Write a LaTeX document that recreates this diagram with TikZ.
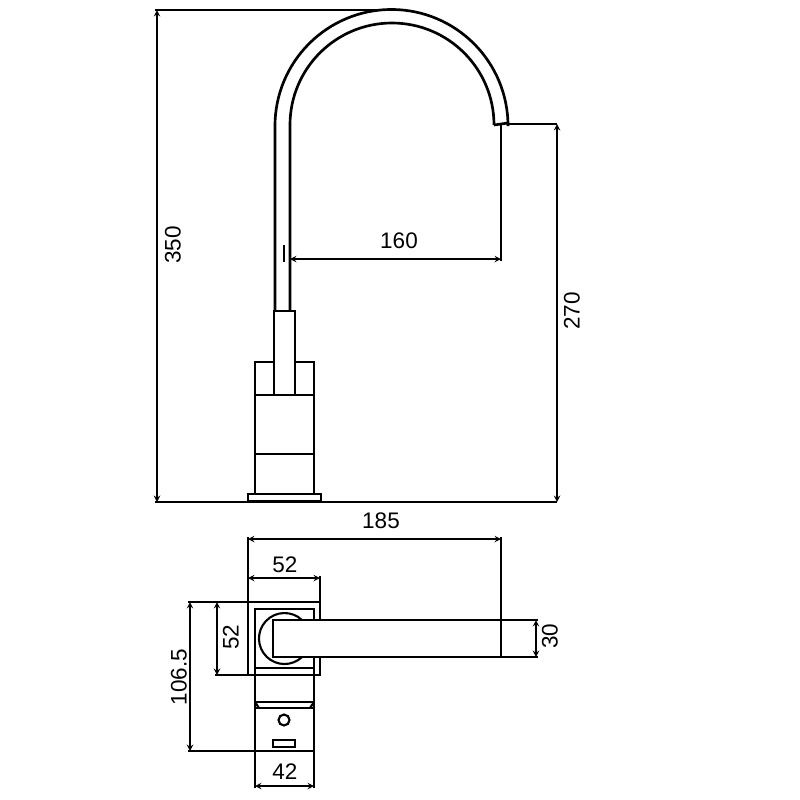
\documentclass[tikz,border=0pt]{standalone}
\usepackage{fontspec}
\setmainfont{Liberation Sans}
\usetikzlibrary{arrows,positioning,calc}
\tikzset{
	body/.style={line width=1.9pt},
	plan/.style={line width=1.5pt},
	ext/.style={line width=1.2pt},
	dim/.style={line width=1pt,<->,>=stealth},
	lab/.style={inner sep=0pt,font=\fontsize{16}{19}\selectfont}
}
\begin{document}
\begin{tikzpicture}[x=0.25mm,y=-0.25mm]
	\useasboundingbox (0,0) rectangle (800,800);
	% spout
	\draw[body] (275,311) -- (275,126) arc (180:360:116.5) -- (508,123) -- (494,125);
	\draw[body] (290,311) -- (290,125) arc (180:360:102);
	% side view base
	\draw[body] (274,311) rectangle (295,395);
	\draw[body] (274,362) -- (255,362) -- (255,494);
	\draw[body] (295,362) -- (314,362) -- (314,494);
	\draw[plan] (255,395) -- (314,395);
	\draw[plan] (255,454) -- (314,454);
	\draw[plan] (248,494) rectangle (321,501);
	% side view extension lines
	\draw[ext] (155,10) -- (388,10);
	\draw[ext] (155,502) -- (557,502);
	\draw[ext] (508,124) -- (557,124);
	\draw[ext] (501,124) -- (501,261);
	\draw[plan] (284,245) -- (284,262);
	% plan view
	\draw[plan] (248,602) rectangle (320,675);
	\draw[plan] (255,609) rectangle (314,668);
	\draw[plan] (255,668) -- (255,788);
	\draw[plan] (314,668) -- (314,788);
	\draw[body] (255,702) -- (314,702);
	\draw[plan] (255,708) -- (314,708);
	\draw[plan] (255,702) -- (259,708);
	\draw[plan] (314,702) -- (310,708);
	\draw[plan] (284,720) circle (5.5);
	\draw[plan] (273,740) rectangle (295,747);
	\draw[plan] (302,620) arc (313.4:46.6:25.5);
	\draw[plan,fill=white] (273,620) rectangle (501,657);
	% plan view extension lines
	\draw[ext] (248,675) -- (248,537);
	\draw[ext] (501,621) -- (501,537);
	\draw[ext] (320,602) -- (320,576);
	\draw[ext] (188,602) -- (248,602);
	\draw[ext] (215,675) -- (248,675);
	\draw[ext] (188,751) -- (314,751);
	\draw[ext] (501,620) -- (538,620);
	\draw[ext] (501,657) -- (538,657);
	% dimensions
	\draw[dim] (157,10) -- (157,502);
	\draw[dim] (557,124) -- (557,502);
	\draw[dim] (290,259) -- (501,259);
	\draw[dim] (248,539) -- (501,539);
	\draw[dim] (248,578) -- (320,578);
	\draw[dim] (217,602) -- (217,675);
	\draw[dim] (190,602) -- (190,751);
	\draw[dim] (536,620) -- (536,657);
	\draw[dim] (255,786) -- (314,786);
	% labels
	\node[lab,rotate=90] (height) at (173,245) {350};
	\node[lab,rotate=90] (outlet) at (572,311) {270};
	\node[lab] (reach) at (399,241) {160};
	\node[lab] (width) at (381,521) {185};
	\node[lab] (plateh) at (285,565) {52};
	\node[lab,rotate=90] (platev) at (231,637) {52};
	\node[lab,rotate=90] (depth) at (179,677) {106.5};
	\node[lab,rotate=90] (handle) at (550,636) {30};
	\node[lab] (lever) at (285,772) {42};
\end{tikzpicture}
\end{document}
